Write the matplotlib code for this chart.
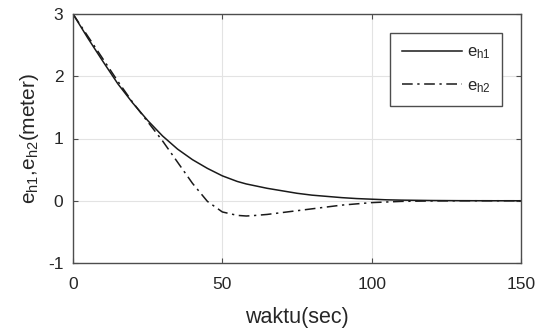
import matplotlib
matplotlib.use("Agg")
import matplotlib.pyplot as plt

plt.rcParams['font.family'] = ['Liberation Sans', 'DejaVu Sans']
plt.rcParams['mathtext.fontset'] = 'custom'
plt.rcParams['mathtext.rm'] = 'Liberation Sans'
plt.rcParams['mathtext.it'] = 'Liberation Sans'
plt.rcParams['axes.unicode_minus'] = False

t = [0, 5, 10, 15, 20, 25, 30, 35, 40, 45, 50, 55, 58, 60, 65, 70, 75, 80, 85,
     90, 95, 100, 105, 110, 120, 130, 140, 150]
e_h1 = [3.0, 2.61, 2.24, 1.88, 1.57, 1.29, 1.04, 0.83, 0.66, 0.52, 0.40, 0.31,
        0.27, 0.25, 0.20, 0.16, 0.12, 0.09, 0.07, 0.05, 0.035, 0.025, 0.015,
        0.01, 0.004, 0.001, 0.0, 0.0]
e_h2 = [3.0, 2.64, 2.28, 1.92, 1.58, 1.27, 0.96, 0.62, 0.28, -0.01, -0.18,
        -0.235, -0.245, -0.24, -0.22, -0.19, -0.16, -0.13, -0.10, -0.07, -0.05,
        -0.03, -0.02, -0.01, -0.003, 0.0, 0.0, 0.0]

xticks = [0, 50, 100, 150]
yticks = [-1, 0, 1, 2, 3]

fig = plt.figure(figsize=(5.37, 3.29), dpi=100)
ax = fig.add_axes([73/537, 1 - 263/329, 448/537, 249/329])

edge = '#262626'
ax.plot(t, e_h1, color='#1a1a1a', lw=1.1, label=r'e$_{\mathregular{h1}}$')
ax.plot(t, e_h2, color='#1a1a1a', lw=1.1, linestyle=(0, (7, 3, 1.5, 3)),
        label=r'e$_{\mathregular{h2}}$')

ax.set_xlim(0, 150)
ax.set_ylim(-1, 3)
ax.set_xticks(xticks)
ax.set_yticks(yticks)
ax.grid(True, color='#e3e3e3', lw=0.8)
ax.set_axisbelow(True)
for s in ax.spines.values():
    s.set_color('#4d4d4d')
    s.set_linewidth(1.0)
ax.tick_params(direction='in', top=True, right=True, length=3.5, width=0.8,
               colors='#4d4d4d', labelcolor=edge, labelsize=12.5)
ax.tick_params(axis='x', pad=10)
ax.tick_params(axis='y', pad=7)

ax.set_xlabel('waktu(sec)', fontsize=15.5, color=edge, labelpad=11)
ax.set_ylabel(r'e$_{\mathregular{h1}}$,e$_{\mathregular{h2}}$(meter)',
              fontsize=15, color=edge, labelpad=5)

leg = ax.legend(loc='upper right', bbox_to_anchor=(1 - 19/448, 1 - 19/249),
                borderaxespad=0, fontsize=12, handlelength=3.6,
                labelspacing=1.0, fancybox=False, framealpha=1,
                edgecolor='#4d4d4d', borderpad=0.7, handletextpad=0.3)
leg.get_frame().set_linewidth(1.0)
for txt in leg.get_texts():
    txt.set_color(edge)

fig.savefig('out.png', dpi=100)
